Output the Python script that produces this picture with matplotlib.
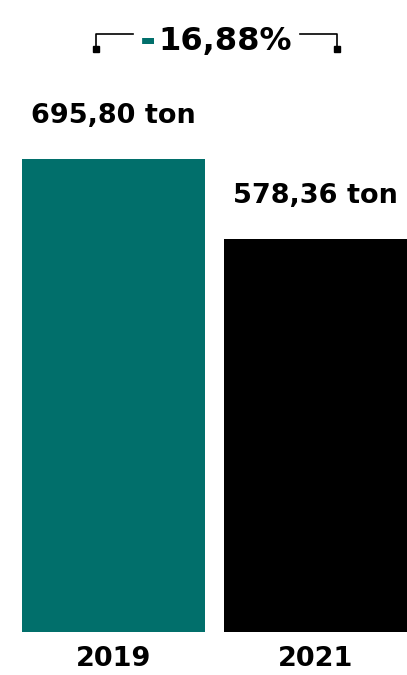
import matplotlib.pyplot as plt
from matplotlib.lines import Line2D

years = ["2019", "2021"]
values = [695.80, 578.36]
value_labels = ["695,80 ton", "578,36 ton"]
colors = ["#016f6b", "#000000"]
change_label = "16,88%"

W, H = 407, 675
fig = plt.figure(figsize=(W / 100, H / 100), dpi=100)
plt.rcParams['font.family'] = ['DejaVu Sans']

# axes placed so the tallest bar spans pixel rows 159..632
ax = fig.add_axes([22 / W, (H - 632) / H, (W - 22) / W, (632 - 159) / H])
width = 0.905
ax.bar(range(len(values)), values, width=width, color=colors)
ax.set_xlim(-width / 2, len(values) - 1 + width / 2)
ax.set_ylim(0, max(values))
ax.axis("off")

for i, (v, lab) in enumerate(zip(values, value_labels)):
    ax.annotate(lab, (i, v), xytext=(0, 26), textcoords="offset points",
                ha="center", va="baseline", fontsize=19.5, fontweight="bold",
                annotation_clip=False)
    ax.annotate(years[i], (i, 0), xytext=(0, -24.5), textcoords="offset points",
                ha="center", va="baseline", fontsize=19.5, fontweight="bold",
                annotation_clip=False)

# title with teal minus sign
fig.text(156 / W, 1 - 53 / H, "-", color=colors[0], fontsize=28,
         fontweight="heavy", ha="right", va="baseline")
fig.text(158 / W, 1 - 50 / H, change_label, color="black", fontsize=23,
         fontweight="heavy", ha="left", va="baseline")

# bracket lines
def px(x, y):
    return x / W, 1 - y / H

for xs in [(133, 96), (300, 337)]:
    x0, y0 = px(xs[0], 34)
    x1, y1 = px(xs[1], 34)
    x2, y2 = px(xs[1], 49)
    fig.add_artist(Line2D([x0, x1, x2], [y0, y1, y2], color="black", lw=1.2))
    fig.add_artist(Line2D([x2], [y2], marker="s", markersize=4, color="black"))

fig.savefig("out.png", dpi=100)
